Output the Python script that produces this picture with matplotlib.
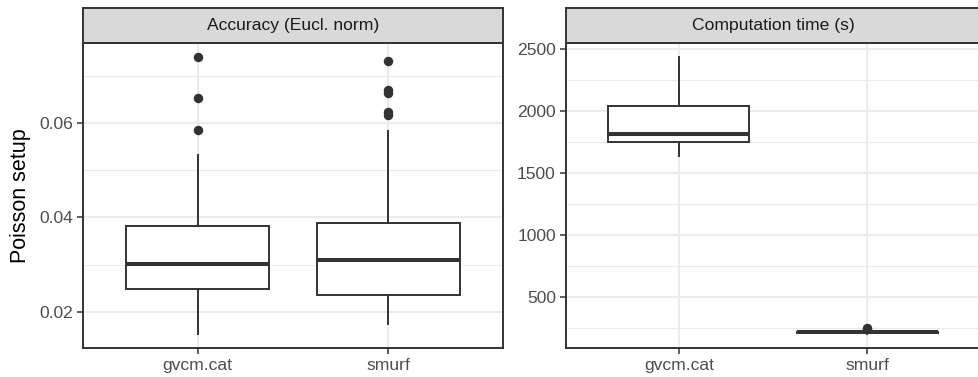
import matplotlib.pyplot as plt

plt.rcParams['font.family'] = ['Liberation Sans', 'DejaVu Sans']

methods = ['gvcm.cat', 'smurf']
panel_titles = ['Accuracy (Eucl. norm)', 'Computation time (s)']
y_label = 'Poisson setup'

# boxplot summaries, one value per method
acc_whislo = [0.0153, 0.0174]
acc_q1 = [0.0249, 0.0236]
acc_med = [0.0301, 0.0309]
acc_q3 = [0.0381, 0.0388]
acc_whishi = [0.0533, 0.0584]
acc_fliers = [[0.0740, 0.0652, 0.0586],
              [0.0731, 0.0669, 0.0664, 0.0624, 0.0616]]

time_whislo = [1638, 198]
time_q1 = [1746, 207]
time_med = [1811, 213]
time_q3 = [2035, 219]
time_whishi = [2435, 232]
time_fliers = [[], [241, 245]]

acc_major = [0.02, 0.04, 0.06]
acc_minor = [0.03, 0.05, 0.07]
time_major = [500, 1000, 1500, 2000, 2500]
time_minor = [250, 750, 1250, 1750, 2250]


def summaries(lo, q1, med, q3, hi, fl):
    out = []
    for i in range(len(methods)):
        out.append(dict(whislo=lo[i], q1=q1[i], med=med[i], q3=q3[i],
                        whishi=hi[i], fliers=fl[i], label=methods[i]))
    return out


acc_stats = summaries(acc_whislo, acc_q1, acc_med, acc_q3, acc_whishi, acc_fliers)
time_stats = summaries(time_whislo, time_q1, time_med, time_q3, time_whishi, time_fliers)

fig = plt.figure(figsize=(9.79, 3.77), dpi=100)

W, H = 979.0, 377.0
panels = [(83, 503), (566, 980)]
top, bottom, strip_top = 43, 348, 8
dark = '#333333'


def panel(x0, x1, stats, major, minor, title):
    ax = fig.add_axes([x0 / W, 1 - bottom / H, (x1 - x0) / W, (bottom - top) / H])
    ax.bxp(stats, positions=[1, 2], widths=0.75, showcaps=False, patch_artist=True,
           boxprops=dict(facecolor='white', edgecolor=dark, linewidth=1.4),
           whiskerprops=dict(color=dark, linewidth=1.4),
           medianprops=dict(color=dark, linewidth=2.9),
           flierprops=dict(marker='o', markerfacecolor=dark, markeredgecolor=dark,
                           markersize=5.8))
    lo = min(min(s['whislo'], *s['fliers']) if s['fliers'] else s['whislo'] for s in stats)
    hi = max(max(s['whishi'], *s['fliers']) if s['fliers'] else s['whishi'] for s in stats)
    pad = (hi - lo) * 0.05
    ax.set_ylim(lo - pad, hi + pad)
    ax.set_xlim(0.4, 2.6)
    ax.set_yticks(major)
    ax.set_yticks(minor, minor=True)
    ax.set_xticks([1, 2])
    ax.set_xticklabels(methods)
    ax.grid(which='major', color='#EBEBEB', linewidth=1.5)
    ax.grid(which='minor', axis='y', color='#EBEBEB', linewidth=0.8)
    ax.set_axisbelow(True)
    ax.tick_params(which='major', length=4, width=1.1, color=dark, labelsize=12.6,
                   labelcolor='#4D4D4D', pad=3.3)
    ax.tick_params(which='minor', length=0)
    for sp in ax.spines.values():
        sp.set_color(dark)
        sp.set_linewidth(1.4)
    # facet strip
    st = fig.add_axes([x0 / W, 1 - top / H, (x1 - x0) / W, (top - strip_top) / H])
    st.set_facecolor('#D9D9D9')
    st.set_xticks([])
    st.set_yticks([])
    for sp in st.spines.values():
        sp.set_color(dark)
        sp.set_linewidth(1.4)
    st.text(0.5, 0.5, title, ha='center', va='center', fontsize=12.6, color='#1A1A1A',
            transform=st.transAxes)
    return ax


ax1 = panel(panels[0][0], panels[0][1], acc_stats, acc_major, acc_minor, panel_titles[0])
ax2 = panel(panels[1][0], panels[1][1], time_stats, time_major, time_minor, panel_titles[1])
ax1.set_ylabel(y_label, fontsize=15.5, va='center')
ax1.yaxis.set_label_coords(-0.15, 0.5)

fig.savefig('out.png', dpi=100)
